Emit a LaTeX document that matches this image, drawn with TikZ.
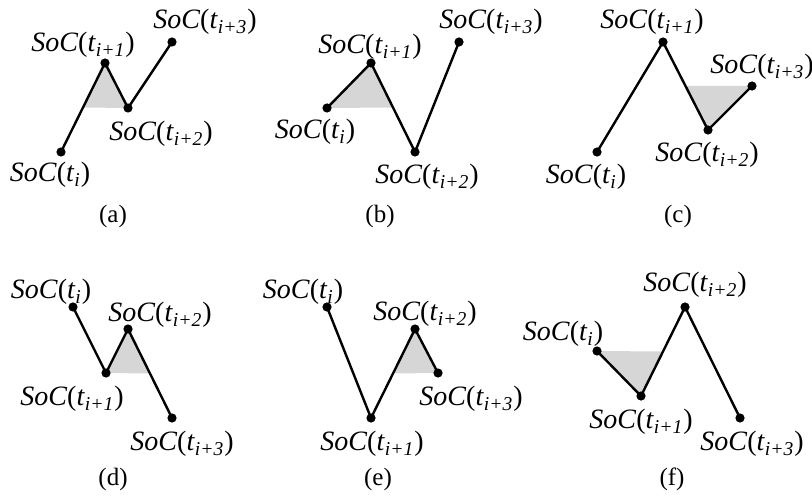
\documentclass[tikz,border=0pt]{standalone}
\usepackage{fontspec}
\setmainfont{Liberation Serif}
\usepackage{xcolor}
\definecolor{ShadeGray}{RGB}{214,214,214}
\usepackage{tikz}
\usetikzlibrary{calc}
\tikzset{
  % SoC sample polyline
  socline/.style={line width=1.2pt, black, line join=miter},
  % shaded half cycle
  cycfill/.style={fill=ShadeGray, draw=none},
  % sample dot
  sdot/.style={black},
  % SoC labels
  slabel/.style={font=\fontsize{14}{16}\selectfont, inner sep=0pt},
  % sub-figure caption
  caplabel/.style={font=\fontsize{12.5}{14}\selectfont, inner sep=0pt},
}
\newcommand{\SoC}[1]{\textit{SoC}(\textit{t}\textsubscript{\textit{#1}})}

\begin{document}
\begin{tikzpicture}[x=0.5pt, y=-0.5pt]
  \useasboundingbox (0,0) rectangle (812,502);

  %% ---- (a) ----
  \coordinate (a0) at (61,152);
  \coordinate (a1) at (105,63);
  \coordinate (a2) at (128,108);
  \coordinate (a3) at (172,42);
  \fill[cycfill] (a1) -- (a2) -- ($(a1)!0.5!(a0)$) -- cycle;
  \node[slabel] (la0) at (50,175) {\SoC{i}};
  \node[slabel] (la1) at (83,45) {\SoC{i+1}};
  \node[slabel] (la2) at (161,134) {\SoC{i+2}};
  \node[slabel] (la3) at (205,22) {\SoC{i+3}};
  \node[caplabel] (capa) at (113,216) {(a)};

  %% ---- (b) ----
  \coordinate (b0) at (327,108);
  \coordinate (b1) at (371,63);
  \coordinate (b2) at (415,152);
  \coordinate (b3) at (459,42);
  \fill[cycfill] (b0) -- (b1) -- ($(b1)!0.5!(b2)$) -- cycle;
  \node[slabel] (lb0) at (315,132) {\SoC{i}};
  \node[slabel] (lb1) at (370,47) {\SoC{i+1}};
  \node[slabel] (lb2) at (427,177) {\SoC{i+2}};
  \node[slabel] (lb3) at (491,22) {\SoC{i+3}};
  \node[caplabel] (capb) at (380,216) {(b)};

  %% ---- (c) ----
  \coordinate (c0) at (597,152);
  \coordinate (c1) at (663,42);
  \coordinate (c2) at (708,130);
  \coordinate (c3) at (752,86);
  \fill[cycfill] (c2) -- (c3) -- ($(c2)!0.5!(c1)$) -- cycle;
  \node[slabel] (lc0) at (586,177) {\SoC{i}};
  \node[slabel] (lc1) at (652,22) {\SoC{i+1}};
  \node[slabel] (lc2) at (707,155) {\SoC{i+2}};
  \node[slabel] (lc3) at (762,67) {\SoC{i+3}};
  \node[caplabel] (capc) at (678,216) {(c)};

  %% ---- (d) ----
  \coordinate (d0) at (73,307);
  \coordinate (d1) at (106,373);
  \coordinate (d2) at (128,329);
  \coordinate (d3) at (172,418);
  \fill[cycfill] (d1) -- (d2) -- ($(d2)!0.5!(d3)$) -- cycle;
  \node[slabel] (ld0) at (51,292) {\SoC{i}};
  \node[slabel] (ld1) at (72,399) {\SoC{i+1}};
  \node[slabel] (ld2) at (160,315) {\SoC{i+2}};
  \node[slabel] (ld3) at (182,444) {\SoC{i+3}};
  \node[caplabel] (capd) at (113,479) {(d)};

  %% ---- (e) ----
  \coordinate (e0) at (327,307);
  \coordinate (e1) at (371,418);
  \coordinate (e2) at (415,329);
  \coordinate (e3) at (438,373);
  \fill[cycfill] (e2) -- (e3) -- ($(e2)!0.5!(e1)$) -- cycle;
  \node[slabel] (le0) at (303,292) {\SoC{i}};
  \node[slabel] (le1) at (372,444) {\SoC{i+1}};
  \node[slabel] (le2) at (425,314) {\SoC{i+2}};
  \node[slabel] (le3) at (471,399) {\SoC{i+3}};
  \node[caplabel] (cape) at (378,479) {(e)};

  %% ---- (f) ----
  \coordinate (f0) at (597,351);
  \coordinate (f1) at (641,396);
  \coordinate (f2) at (685,307);
  \coordinate (f3) at (740,418);
  \fill[cycfill] (f0) -- (f1) -- ($(f1)!0.5!(f2)$) -- cycle;
  \node[slabel] (lf0) at (563,334) {\SoC{i}};
  \node[slabel] (lf1) at (641,422) {\SoC{i+1}};
  \node[slabel] (lf2) at (695,285) {\SoC{i+2}};
  \node[slabel] (lf3) at (752,444) {\SoC{i+3}};
  \node[caplabel] (capf) at (672,479) {(f)};

  %% SoC curves and samples
  \foreach \p in {a,b,c,d,e,f}{
    \draw[socline] (\p0) -- (\p1) -- (\p2) -- (\p3);
    \foreach \k in {0,...,3}
      \fill[sdot] (\p\k) circle (2.3pt);
  }

\end{tikzpicture}
\end{document}
